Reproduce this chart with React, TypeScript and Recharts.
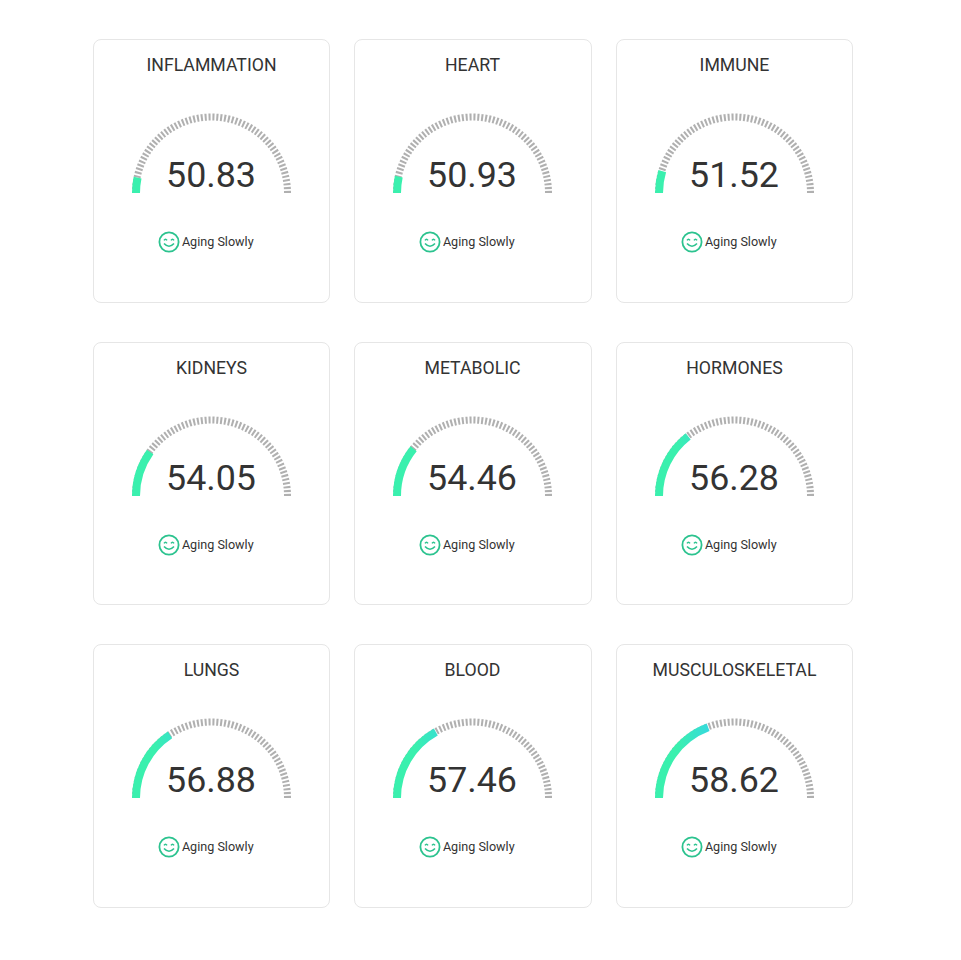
import { Cell, Pie, PieChart } from "recharts";

const panels = [
  "INFLAMMATION",
  "HEART",
  "IMMUNE",
  "KIDNEYS",
  "METABOLIC",
  "HORMONES",
  "LUNGS",
  "BLOOD",
  "MUSCULOSKELETAL",
];
const scores = [50.83, 50.93, 51.52, 54.05, 54.46, 56.28, 56.88, 57.46, 58.62];
const status = "Aging Slowly";
// score scale of the dial, read from where the coloured arcs stop
const scaleMin = 49.25;
const scaleMax = 73.5;
const tickCount = 62;
const tickSize = 1.1;
const gapSize = 1;

const columnX = [93, 354, 616];
const columnWidth = [237, 238, 237];
const rowY = [39, 342, 644];
const rowHeight = [264, 263, 264];

const tickData = Array.from({ length: tickCount * 2 - 1 }, (_, i) => ({
  name: i % 2 === 0 ? "tick" : "gap",
  value: i % 2 === 0 ? tickSize : gapSize,
}));

function Smiley() {
  return (
    <svg width={22} height={22} viewBox="0 0 22 22" style={{ display: "block" }}>
      <circle cx={11} cy={11} r={9.6} fill="none" stroke="#2cc38f" strokeWidth={1.8} />
      <path d="M6 9.4 Q7.5 7 9 9.4" fill="none" stroke="#2cc38f" strokeWidth={1.5} />
      <path d="M13 9.4 Q14.5 7 16 9.4" fill="none" stroke="#2cc38f" strokeWidth={1.5} />
      <path d="M6 12.5 Q11 18 16 12.5" fill="none" stroke="#2cc38f" strokeWidth={1.6} />
    </svg>
  );
}

function Gauge({ title, score, index }: { title: string; score: number; index: number }) {
  const col = index % 3;
  const row = Math.floor(index / 3);
  const arc = [
    { name: "score", value: score - scaleMin },
    { name: "rest", value: scaleMax - score },
  ];
  const gradId = `arcFill${index}`;
  return (
    <div
      style={{
        position: "absolute",
        left: columnX[col],
        top: rowY[row],
        width: columnWidth[col],
        height: rowHeight[row],
        boxSizing: "border-box",
        border: "1px solid #e6e6e6",
        borderRadius: 8,
        background: "#fff",
        fontFamily: "Roboto, sans-serif",
        color: "#333",
      }}
    >
      <div
        style={{
          position: "absolute",
          left: -10,
          width: 255,
          top: 14,
          textAlign: "center",
          fontSize: 17.7,
          lineHeight: "22px",
        }}
      >
        {title}
      </div>
      <div style={{ position: "absolute", left: 0, top: 60 }}>
        <PieChart width={235} height={110}>
          <defs>
            <linearGradient id={gradId} gradientUnits="userSpaceOnUse" x1={38} y1={0} x2={198} y2={0}>
              <stop offset="0%" stopColor="#3af0ae" />
              <stop offset="14%" stopColor="#3af0ae" />
              <stop offset="35%" stopColor="#36d8e0" />
              <stop offset="100%" stopColor="#36d8e0" />
            </linearGradient>
          </defs>
          <Pie
            data={tickData}
            dataKey="value"
            cx={112.5}
            cy={88}
            startAngle={180}
            endAngle={0}
            innerRadius={72.5}
            outerRadius={79.5}
            stroke="none"
            isAnimationActive={false}
          >
            {tickData.map((d, i) => (
              <Cell key={i} fill={d.name === "tick" ? "#b0b0b0" : "transparent"} />
            ))}
          </Pie>
          <Pie
            data={arc}
            dataKey="value"
            cx={112.5}
            cy={88}
            startAngle={180}
            endAngle={0}
            innerRadius={71.5}
            outerRadius={79.5}
            stroke="none"
            isAnimationActive={false}
          >
            <Cell fill={`url(#${gradId})`} />
            <Cell fill="transparent" />
          </Pie>
        </PieChart>
      </div>
      <div
        style={{
          position: "absolute",
          left: 0,
          width: 234,
          top: 114,
          textAlign: "center",
          fontSize: 35.8,
          lineHeight: "42px",
        }}
      >
        {score.toFixed(2)}
      </div>
      <div
        style={{
          position: "absolute",
          left: 0,
          width: 224,
          top: 191,
          display: "flex",
          justifyContent: "center",
          alignItems: "center",
          gap: 1.5,
          fontSize: 12.6,
          lineHeight: "22px",
        }}
      >
        <Smiley />
        <span>{status}</span>
      </div>
    </div>
  );
}

export default function App() {
  return (
    <div style={{ position: "relative", width: 945, height: 944 }}>
      {panels.map((p, i) => (
        <div key={p} style={{ position: "absolute", left: -8, top: -8 }}>
          <Gauge title={p} score={scores[i]} index={i} />
        </div>
      ))}
    </div>
  );
}
